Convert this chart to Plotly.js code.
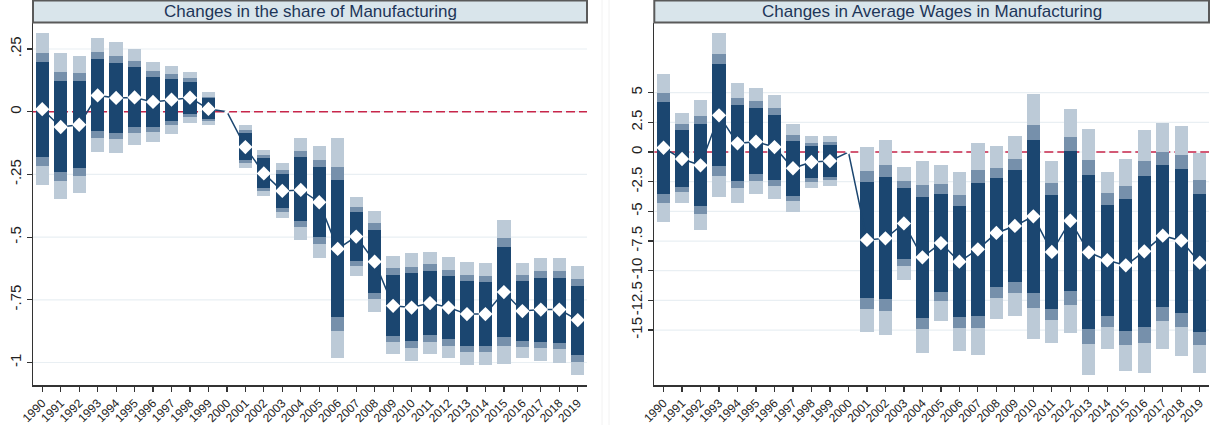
<!DOCTYPE html>
<html>
<head>
<meta charset="utf-8">
<script src="https://cdn.plot.ly/plotly-3.0.1.min.js"></script>
<style>html,body{margin:0;padding:0;background:#fff;}#chart{width:1211px;height:425px;}</style>
</head>
<body>
<div id="chart"></div>
<script>
// ---------- DATA ----------
const years = [1990,1991,1992,1993,1994,1995,1996,1997,1998,1999,2000,2001,2002,2003,2004,2005,2006,2007,2008,2009,2010,2011,2012,2013,2014,2015,2016,2017,2018,2019];

// Panel 1: Changes in the share of Manufacturing
const sharePoint = [0.010,-0.061,-0.052,0.065,0.055,0.057,0.039,0.048,0.056,0.011,0,-0.141,-0.246,-0.316,-0.312,-0.361,-0.547,-0.498,-0.598,-0.774,-0.781,-0.763,-0.781,-0.807,-0.807,-0.719,-0.795,-0.789,-0.789,-0.831];
const shareHi90 = [0.198,0.124,0.121,0.209,0.195,0.179,0.140,0.132,0.120,0.053,null,-0.086,-0.186,-0.248,-0.180,-0.222,-0.272,-0.401,-0.472,-0.650,-0.644,-0.634,-0.655,-0.676,-0.679,-0.539,-0.676,-0.662,-0.662,-0.695];
const shareLo90 = [-0.181,-0.240,-0.223,-0.078,-0.084,-0.061,-0.061,-0.037,-0.008,-0.030,null,-0.194,-0.303,-0.385,-0.436,-0.501,-0.820,-0.597,-0.724,-0.894,-0.914,-0.892,-0.908,-0.933,-0.933,-0.898,-0.914,-0.920,-0.924,-0.970];
const shareHi95 = [0.235,0.160,0.156,0.237,0.222,0.203,0.161,0.150,0.136,0.060,null,-0.073,-0.173,-0.232,-0.158,-0.194,-0.219,-0.381,-0.445,-0.624,-0.619,-0.609,-0.630,-0.651,-0.655,-0.505,-0.652,-0.635,-0.635,-0.668];
const shareLo95 = [-0.217,-0.276,-0.256,-0.105,-0.110,-0.085,-0.081,-0.053,-0.021,-0.038,null,-0.206,-0.315,-0.399,-0.458,-0.528,-0.874,-0.614,-0.748,-0.919,-0.941,-0.917,-0.933,-0.959,-0.958,-0.933,-0.937,-0.943,-0.948,-0.997];
const shareHi99 = [0.313,0.233,0.223,0.295,0.278,0.250,0.199,0.183,0.159,0.080,null,-0.053,-0.153,-0.206,-0.103,-0.137,-0.106,-0.341,-0.395,-0.575,-0.565,-0.558,-0.581,-0.599,-0.602,-0.432,-0.605,-0.583,-0.583,-0.614];
const shareLo99 = [-0.294,-0.348,-0.325,-0.162,-0.166,-0.134,-0.121,-0.088,-0.046,-0.054,null,-0.226,-0.336,-0.425,-0.512,-0.585,-0.983,-0.654,-0.800,-0.967,-0.994,-0.966,-0.982,-1.010,-1.009,-1.006,-0.983,-0.995,-1.001,-1.050];

// Panel 2: Changes in Average Wages in Manufacturing
const wagePoint = [0.36,-0.59,-1.12,3.09,0.73,0.87,0.42,-1.37,-0.84,-0.76,0,-7.41,-7.27,-6.02,-8.87,-7.67,-9.24,-8.20,-6.82,-6.23,-5.42,-8.42,-5.79,-8.45,-9.12,-9.55,-8.37,-7.05,-7.47,-9.32];
const wageHi90 = [4.24,1.85,2.33,7.39,3.93,3.71,3.14,0.93,0.53,0.56,null,-2.56,-2.08,-3.03,-3.79,-3.54,-4.52,-2.61,-2.22,-1.49,1.01,-3.60,0.08,-1.96,-4.44,-3.96,-2.00,-1.12,-1.46,-3.54];
const wageLo90 = [-3.54,-2.95,-4.55,-1.18,-2.44,-1.88,-2.36,-3.68,-2.22,-2.08,null,-12.27,-12.38,-9.04,-13.96,-11.77,-13.93,-13.79,-11.40,-10.98,-11.88,-13.23,-11.71,-14.94,-13.84,-15.11,-14.77,-13.03,-13.59,-15.16];
const wageHi95 = [5.00,2.33,3.03,8.26,4.55,4.27,3.71,1.43,0.78,0.81,null,-1.57,-1.10,-2.47,-2.81,-2.72,-3.60,-1.52,-1.35,-0.56,2.30,-2.64,1.29,-0.67,-3.48,-2.86,-0.73,0.03,-0.25,-2.38];
const wageLo95 = [-4.32,-3.40,-5.22,-2.02,-3.03,-2.42,-2.89,-4.15,-2.50,-2.33,null,-13.23,-13.39,-9.60,-14.94,-12.55,-14.86,-14.86,-12.27,-11.90,-13.14,-14.15,-12.89,-16.20,-14.72,-16.23,-16.06,-14.21,-14.77,-16.28];
const wageHi99 = [6.60,3.26,4.38,10.00,5.84,5.36,4.78,2.33,1.35,1.35,null,0.42,0.98,-1.24,-0.76,-1.07,-1.71,0.73,0.51,1.35,4.89,-0.73,3.65,1.91,-1.66,-0.62,1.83,2.42,2.17,-0.06];
const wageLo99 = [-5.90,-4.32,-6.60,-3.77,-4.30,-3.54,-3.98,-5.05,-3.06,-2.86,null,-15.19,-15.45,-10.78,-16.96,-14.21,-16.74,-17.10,-14.07,-13.82,-15.73,-16.06,-15.28,-18.79,-16.60,-18.48,-18.59,-16.57,-17.19,-18.59];

// Axis ticks
const shareTickVals = [0.25,0,-0.25,-0.5,-0.75,-1];
const shareTickText = ['.25','0','-.25','-.5','-.75','-1'];
const wageTickVals = [5,2.5,0,-2.5,-5,-7.5,-10,-12.5,-15];
const wageTickText = ['5','2.5','0','-2.5','-5','-7.5','-10','-12.5','-15'];
const titles = ['Changes in the share of Manufacturing','Changes in Average Wages in Manufacturing'];

// ---------- STYLE ----------
const NAVY = '#1b4670';
const MID = '#7690ab';
const LIGHT = '#bccad7';
const BARW = 0.72;

function band(lo, hi, color, xa, ya) {
  return {
    type: 'bar', x: years,
    base: lo,
    y: lo.map((v, i) => (v === null || hi[i] === null) ? null : hi[i] - v),
    width: BARW, marker: {color: color, opacity: 1, line: {width: 0}},
    opacity: 1,
    xaxis: xa, yaxis: ya, hoverinfo: 'skip', showlegend: false
  };
}
function pts(p, xa, ya) {
  return {
    type: 'scatter', mode: 'lines+markers', x: years, y: p,
    line: {color: NAVY, width: 1.5},
    marker: {symbol: 'diamond', color: '#ffffff', opacity: 1, size: years.map(y => y === 2000 ? 4 : 11), line: {width: 0}},
    opacity: 1,
    xaxis: xa, yaxis: ya, hoverinfo: 'skip', showlegend: false
  };
}

const data = [
  band(shareLo99, shareHi99, LIGHT, 'x', 'y'),
  band(shareLo95, shareHi95, MID, 'x', 'y'),
  band(shareLo90, shareHi90, NAVY, 'x', 'y'),
  pts(sharePoint, 'x', 'y'),
  band(wageLo99, wageHi99, LIGHT, 'x2', 'y2'),
  band(wageLo95, wageHi95, MID, 'x2', 'y2'),
  band(wageLo90, wageHi90, NAVY, 'x2', 'y2'),
  pts(wagePoint, 'x2', 'y2')
];

const plotH = 425 - 23 - 40;
const tickFont = {family: 'Liberation Sans, Arial, sans-serif', size: 15, color: '#222'};
const xTickFont = {family: 'Liberation Sans, Arial, sans-serif', size: 12, color: '#222'};

function xAxis(domain, anchor) {
  return {
    domain: domain, anchor: anchor, range: [1989.5, 2019.5],
    tickmode: 'array', tickvals: years, ticktext: years.map(String),
    tickangle: -45, tickfont: xTickFont, ticks: 'outside', ticklen: 5, tickwidth: 1.2, tickcolor: '#333',
    showline: true, linecolor: '#333', linewidth: 1.5, showgrid: false, zeroline: false, fixedrange: true
  };
}
function yAxis(range, tv, tt, anchor) {
  return {
    anchor: anchor, range: range, tickmode: 'array', tickvals: tv, ticktext: tt,
    tickangle: -90, tickfont: tickFont, ticks: 'outside', ticklen: 5, tickwidth: 1.2, tickcolor: '#333',
    showline: true, linecolor: '#333', linewidth: 1.5,
    showgrid: false, zeroline: false, fixedrange: true
  };
}

const shapes = [];
const annotations = [];
const panelTicks = [shareTickVals, wageTickVals];
[['x', 'y'], ['x2', 'y2']].forEach((ax, i) => {
  // light gridlines (drawn below the data)
  panelTicks[i].forEach(v => {
    shapes.push({type: 'line', xref: ax[0] + ' domain', yref: ax[1], x0: 0, x1: 1, y0: v, y1: v,
      line: {color: '#e9eff3', width: 1.2}, layer: 'below'});
  });
  // red dashed zero reference line
  shapes.push({type: 'line', xref: ax[0] + ' domain', yref: ax[1], x0: 0, x1: 1, y0: 0, y1: 0,
    line: {color: '#c8264a', width: 1.6, dash: '9px,4px'}, layer: 'below'});
  // title strip
  shapes.push({type: 'rect', xref: ax[0] + ' domain', yref: 'paper', x0: 0, x1: 1,
    y0: 1 + 0.5 / plotH, y1: 1 + 22.5 / plotH,
    fillcolor: '#d9e5eb', line: {color: '#5a5a5a', width: 2}, layer: 'above'});
  annotations.push({xref: ax[0] + ' domain', yref: 'paper', x: 0.5, y: 1 + 11.5 / plotH,
    xanchor: 'center', yanchor: 'middle', showarrow: false, text: titles[i],
    font: {family: 'Liberation Sans, Arial, sans-serif', size: 17, color: '#1d3558'}});
});
// faint panel borders
shapes.push({type: 'line', xref: 'paper', yref: 'paper', x0: (602 - 33) / 1176, x1: (602 - 33) / 1176, y0: -40 / plotH, y1: 1 + 23 / plotH, line: {color: '#f2f2f2', width: 1}});
shapes.push({type: 'line', xref: 'paper', yref: 'paper', x0: (609 - 33) / 1176, x1: (609 - 33) / 1176, y0: -40 / plotH, y1: 1 + 23 / plotH, line: {color: '#f2f2f2', width: 1}});

const layout = {
  width: 1211, height: 425,
  margin: {l: 33, r: 2, t: 23, b: 40, pad: 0},
  paper_bgcolor: '#ffffff', plot_bgcolor: 'rgba(0,0,0,0)',
  barmode: 'overlay', bargap: 0,
  showlegend: false,
  xaxis: xAxis([0, (587 - 33) / 1176], 'y'),
  xaxis2: xAxis([(654.3 - 33) / 1176, 1], 'y2'),
  yaxis: yAxis([-1.0897, 0.3537], shareTickVals, shareTickText, 'x'),
  yaxis2: yAxis([-19.63, 10.87], wageTickVals, wageTickText, 'x2'),
  shapes: shapes,
  annotations: annotations
};

Plotly.newPlot('chart', data, layout, {staticPlot: true, displayModeBar: false});
</script>
</body>
</html>
